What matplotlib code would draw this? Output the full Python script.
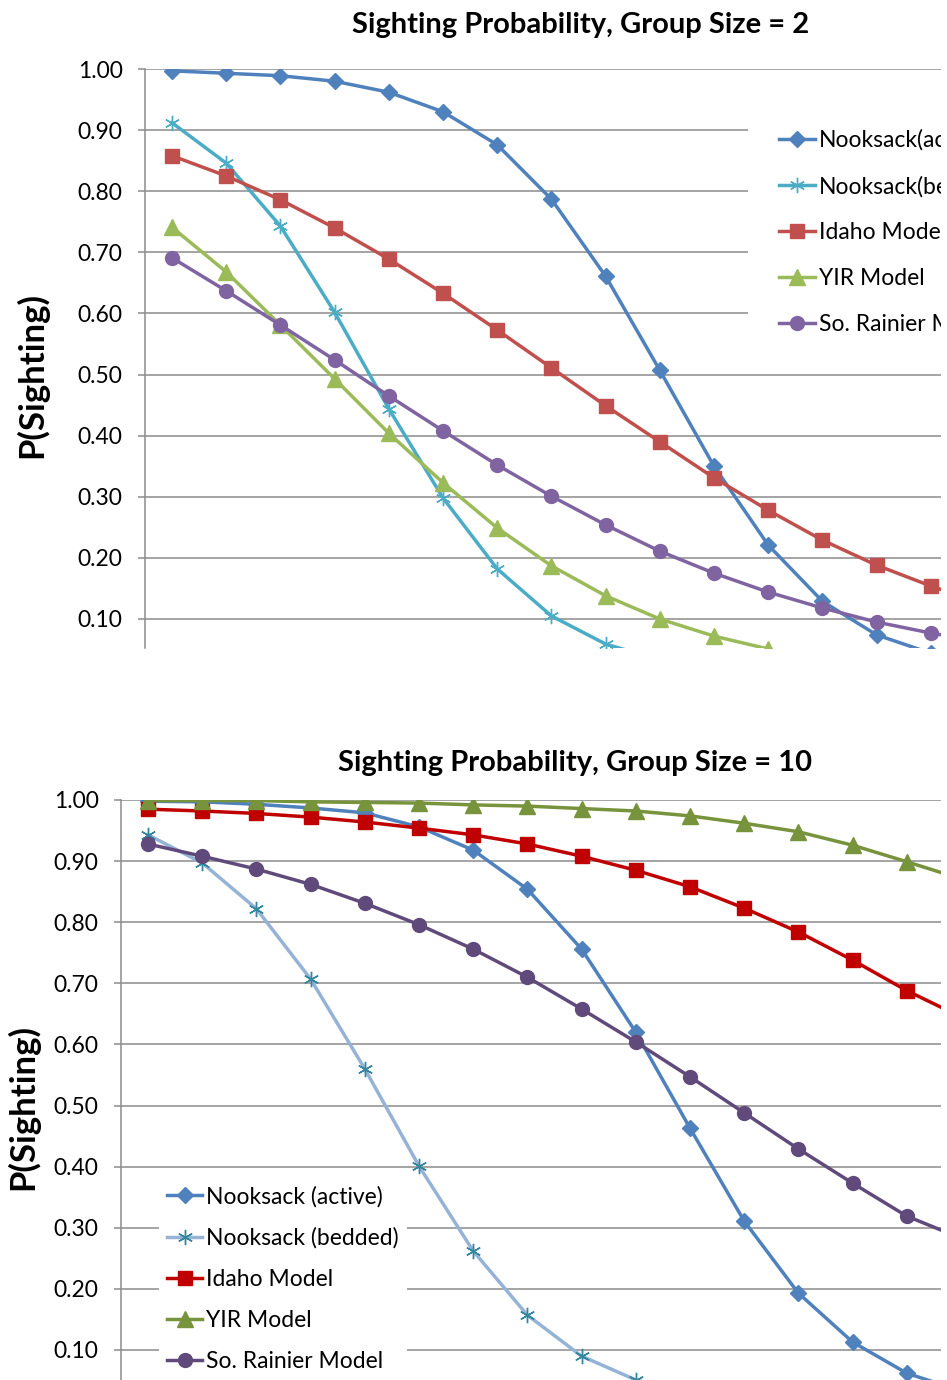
import matplotlib
matplotlib.use('Agg')
import matplotlib.pyplot as plt

plt.rcParams['font.family'] = ['Lato', 'DejaVu Sans']

# sighting probability by survey step, group size 2
active_2 = [0.997, 0.993, 0.989, 0.980, 0.962, 0.930, 0.876, 0.787, 0.661, 0.507,
            0.350, 0.221, 0.129, 0.074, 0.044]
bedded_2 = [0.912, 0.846, 0.743, 0.602, 0.444, 0.298, 0.182, 0.105, 0.059, 0.033]
idaho_2 = [0.858, 0.825, 0.786, 0.740, 0.689, 0.633, 0.573, 0.511, 0.449, 0.390,
           0.331, 0.278, 0.229, 0.188, 0.154, 0.124]
yir_2 = [0.741, 0.668, 0.581, 0.493, 0.404, 0.323, 0.249, 0.187, 0.138, 0.100,
         0.072, 0.051, 0.036]
rainier_2 = [0.691, 0.637, 0.581, 0.524, 0.465, 0.408, 0.352, 0.301, 0.254, 0.211,
             0.175, 0.144, 0.118, 0.095, 0.077, 0.062]

# group size 10
active_10 = [0.998, 0.997, 0.993, 0.987, 0.979, 0.956, 0.918, 0.854, 0.756, 0.620,
             0.463, 0.311, 0.193, 0.113, 0.062, 0.033]
bedded_10 = [0.943, 0.897, 0.822, 0.707, 0.560, 0.401, 0.262, 0.157, 0.090, 0.051, 0.028]
idaho_10 = [0.985, 0.982, 0.978, 0.972, 0.964, 0.954, 0.943, 0.928, 0.908, 0.885,
            0.858, 0.823, 0.784, 0.738, 0.688, 0.645]
yir_10 = [0.999, 0.999, 0.999, 0.997, 0.996, 0.995, 0.992, 0.990, 0.986, 0.982,
          0.974, 0.962, 0.948, 0.926, 0.899, 0.871]
rainier_10 = [0.928, 0.908, 0.887, 0.862, 0.831, 0.796, 0.756, 0.710, 0.658, 0.604,
              0.547, 0.488, 0.429, 0.373, 0.319, 0.283]

labels_2 = ['Nooksack(active)', 'Nooksack(bedded)', 'Idaho Model', 'YIR Model', 'So. Rainier Model']
labels_10 = ['Nooksack (active)', 'Nooksack (bedded)', 'Idaho Model', 'YIR Model', 'So. Rainier Model']
yticks = [0.1, 0.2, 0.3, 0.4, 0.5, 0.6, 0.7, 0.8, 0.9, 1.0]

W, H = 947, 1380
GRID = '#8C8C8C'
STEP_X = 54.2    # px per category
STEP_Y = 611.1   # px per 1.0 of probability

fig = plt.figure(figsize=(W / 100, H / 100), dpi=100)


def add_panel(left, top, right, bottom, first_x):
    ax = fig.add_axes([left / W, 1 - bottom / H, (right - left) / W, (bottom - top) / H])
    ax.set_xlim(0.5, 1 + (right - first_x) / STEP_X)
    ax.set_ylim(1 - (bottom - top) / STEP_Y, 1.0)
    for s in ['top', 'right', 'bottom']:
        ax.spines[s].set_visible(False)
    ax.spines['left'].set_color(GRID)
    ax.spines['left'].set_linewidth(1.1)
    ax.set_xticks([])
    ax.set_yticks(yticks)
    ax.set_yticklabels(['%.2f' % v for v in yticks])
    ax.tick_params(axis='y', length=5, width=1.1, color=GRID, pad=11, labelsize=16.5)
    ax.yaxis.grid(True, color=GRID, lw=1.1)
    ax.set_axisbelow(True)
    return ax


def draw(ax, series, styles, labels):
    for ys, st, lab in zip(series, styles, labels):
        xs = range(1, len(ys) + 1)
        ax.plot(xs, ys, label=lab, lw=2.5, **st)


top_styles = [
    dict(color='#4F81BD', marker='D', ms=8.5),
    dict(color='#4BACC6', marker=(6, 2, 0), ms=11, mew=1.0),
    dict(color='#C0504D', marker='s', ms=10),
    dict(color='#9BBB59', marker='^', ms=11),
    dict(color='#8064A2', marker='o', ms=10),
]
bottom_styles = [
    dict(color='#4F81BD', marker='D', ms=8.5),
    dict(color='#95B3D7', marker=(6, 2, 0), ms=11, mew=1.0, mec='#31859C'),
    dict(color='#C00000', marker='s', ms=10),
    dict(color='#77933C', marker='^', ms=11),
    dict(color='#604A7B', marker='o', ms=10),
]

# group size 2
ax1 = add_panel(144.9, 69, 941, 648, 172)
draw(ax1, [active_2, bedded_2, idaho_2, yir_2, rainier_2], top_styles, labels_2)
leg1 = ax1.legend(loc='upper left', bbox_to_anchor=(748 / W, 1 - 98 / H),
                  bbox_transform=fig.transFigure, frameon=True, fancybox=False,
                  facecolor='white', edgecolor='none', framealpha=1, borderaxespad=0,
                  borderpad=1.36, handlelength=1.55, handletextpad=0.17,
                  labelspacing=1.09, fontsize=16.5)
leg1.get_frame().set_clip_box(ax1.bbox)
for t in leg1.get_texts():
    t.set_clip_box(ax1.bbox)

fig.text(581 / W, 1 - 25 / H, 'Sighting Probability, Group Size = 2',
         ha='center', va='center', fontsize=21, fontweight='bold')
fig.text(32 / W, 1 - 375 / H, 'P(Sighting)', rotation=90,
         ha='center', va='center', fontsize=25, fontweight='bold')

# group size 10
ax2 = add_panel(120.9, 800, 941, 1380, 148)
draw(ax2, [active_10, bedded_10, idaho_10, yir_10, rainier_10], bottom_styles, labels_10)
ax2.legend(loc='upper left', bbox_to_anchor=(159 / W, 1 - 1178 / H),
           bbox_transform=fig.transFigure, frameon=True, fancybox=False,
           facecolor='white', edgecolor='none', framealpha=1, borderaxespad=0,
           borderpad=0.34, handlelength=1.55, handletextpad=0.17,
           labelspacing=0.88, fontsize=16.5)

fig.text(575 / W, 1 - 763 / H, 'Sighting Probability, Group Size = 10',
         ha='center', va='center', fontsize=21, fontweight='bold')
fig.text(23 / W, 1 - 1107 / H, 'P(Sighting)', rotation=90,
         ha='center', va='center', fontsize=25, fontweight='bold')

fig.savefig('out.png', dpi=100)
